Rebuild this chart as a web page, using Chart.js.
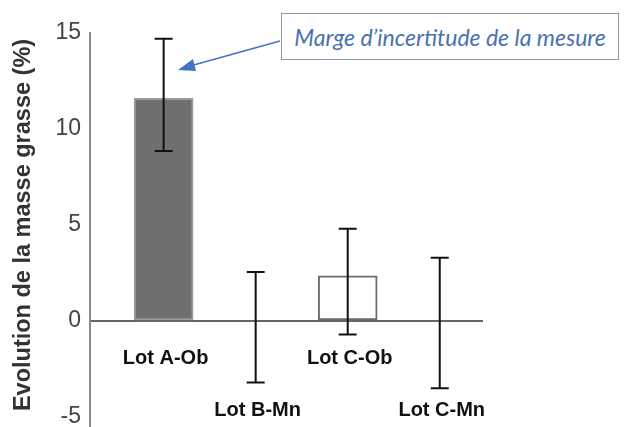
<!DOCTYPE html>
<html>
<head>
<meta charset="utf-8">
<script src="https://cdn.jsdelivr.net/npm/chart.js@4"></script>
<style>
  html, body { margin: 0; padding: 0; background: #fff; }
  #wrap { position: relative; width: 624px; height: 427px; }
  #note {
    position: absolute; left: 281px; top: 13px; width: 338px; height: 47px;
    border: 1.5px solid #8a9aa8; background: #fff; box-sizing: border-box;
    font: italic 23px Lato, "Open Sans", sans-serif; color: #4a72b0;
    display: flex; align-items: center; justify-content: center;
  }
</style>
</head>
<body>
<div id="wrap">
  <canvas id="chart" width="624" height="427"></canvas>
  <div id="note">Marge d’incertitude de la mesure</div>
</div>
<script>
// Fat mass change per batch, with uncertainty margins

const categories = ['Lot A-Ob', 'Lot B-Mn', 'Lot C-Ob', 'Lot C-Mn'];
const values = [11.6, -0.3, 2.35, -0.1];
const errorUp = [3.1, 2.85, 2.45, 3.4];
const errorDown = [2.75, 2.9, 3.05, 3.4];
const yTicks = [-5, 0, 5, 10, 15];

const barFill = ['#6f6f6f', 'rgba(255,255,255,0)', '#ffffff', 'rgba(255,255,255,0)'];
const barEdge = ['#9a9a9a', 'rgba(0,0,0,0)', '#6a6a6a', 'rgba(0,0,0,0)'];

// Error bars drawn from the y scale
const errorBars = {
  id: 'errorBars',
  afterDatasetsDraw(chart) {
    const { ctx, scales: { x, y } } = chart;
    ctx.save();
    ctx.strokeStyle = '#111';
    ctx.lineWidth = 2;
    values.forEach((v, i) => {
      const px = x.getPixelForValue(i + 1);
      const top = y.getPixelForValue(v + errorUp[i]);
      const bottom = y.getPixelForValue(v - errorDown[i]);
      ctx.beginPath();
      ctx.moveTo(px, top); ctx.lineTo(px, bottom);
      ctx.moveTo(px - 9, top); ctx.lineTo(px + 9, top);
      ctx.moveTo(px - 9, bottom); ctx.lineTo(px + 9, bottom);
      ctx.stroke();
    });
    ctx.restore();
  }
};

// Category labels on two rows, axis tail and the note arrow
const lotLabels = {
  id: 'lotLabels',
  afterDraw(chart) {
    const { ctx, chartArea, scales: { x, y } } = chart;
    ctx.save();
    ctx.strokeStyle = '#8a8a8a';
    ctx.lineWidth = 2;
    ctx.beginPath();
    ctx.moveTo(chartArea.left, chartArea.bottom);
    ctx.lineTo(chartArea.left, chart.height);
    ctx.stroke();

    ctx.font = 'bold 20px "Liberation Sans", Arial, sans-serif';
    ctx.fillStyle = '#111';
    ctx.textAlign = 'center';
    ctx.textBaseline = 'middle';
    const zero = y.getPixelForValue(0);
    categories.forEach((c, i) => {
      const px = x.getPixelForValue(i + 1);
      ctx.fillText(c, px + 2, zero + (i % 2 ? 89 : 37));
    });

    ctx.strokeStyle = '#4472c4';
    ctx.fillStyle = '#4472c4';
    ctx.lineWidth = 1.5;
    ctx.beginPath();
    ctx.moveTo(280, 41); ctx.lineTo(190, 66);
    ctx.stroke();
    ctx.beginPath();
    ctx.moveTo(178, 70); ctx.lineTo(193, 59); ctx.lineTo(196, 71);
    ctx.closePath();
    ctx.fill();
    ctx.restore();
  }
};

new Chart(document.getElementById('chart'), {
  type: 'bar',
  data: {
    datasets: [{
      data: values.map((v, i) => ({ x: i + 1, y: v })),
      backgroundColor: barFill,
      borderColor: barEdge,
      borderWidth: 2,
      borderSkipped: false,
      barThickness: 59
    }]
  },
  options: {
    responsive: false,
    animation: false,
    layout: { padding: { top: 33, right: 141, bottom: 10, left: 4 } },
    plugins: { legend: { display: false }, tooltip: { enabled: false } },
    scales: {
      x: {
        type: 'linear',
        min: 0.2,
        max: 4.47,
        offset: false,
        display: false
      },
      y: {
        min: -5,
        max: 15,
        afterBuildTicks: s => { s.ticks = yTicks.map(v => ({ value: v })); },
        afterFit: s => { s.width = 86; s.paddingTop = 0; s.paddingBottom = 0; },
        border: { display: true, color: '#8a8a8a', width: 2 },
        grid: {
          drawTicks: false,
          color: c => c.tick && c.tick.value === 0 ? '#666' : 'rgba(0,0,0,0)',
          lineWidth: 2
        },
        ticks: {
          padding: 9,
          color: '#444',
          font: { family: '"Liberation Sans", Arial, sans-serif', size: 23 }
        },
        title: {
          display: true,
          text: 'Evolution de la masse grasse (%)',
          color: '#333',
          padding: { top: 5, bottom: 0 },
          font: { family: '"Liberation Sans", Arial, sans-serif', size: 23.5, weight: 'bold' }
        }
      }
    }
  },
  plugins: [errorBars, lotLabels]
});
</script>
</body>
</html>
